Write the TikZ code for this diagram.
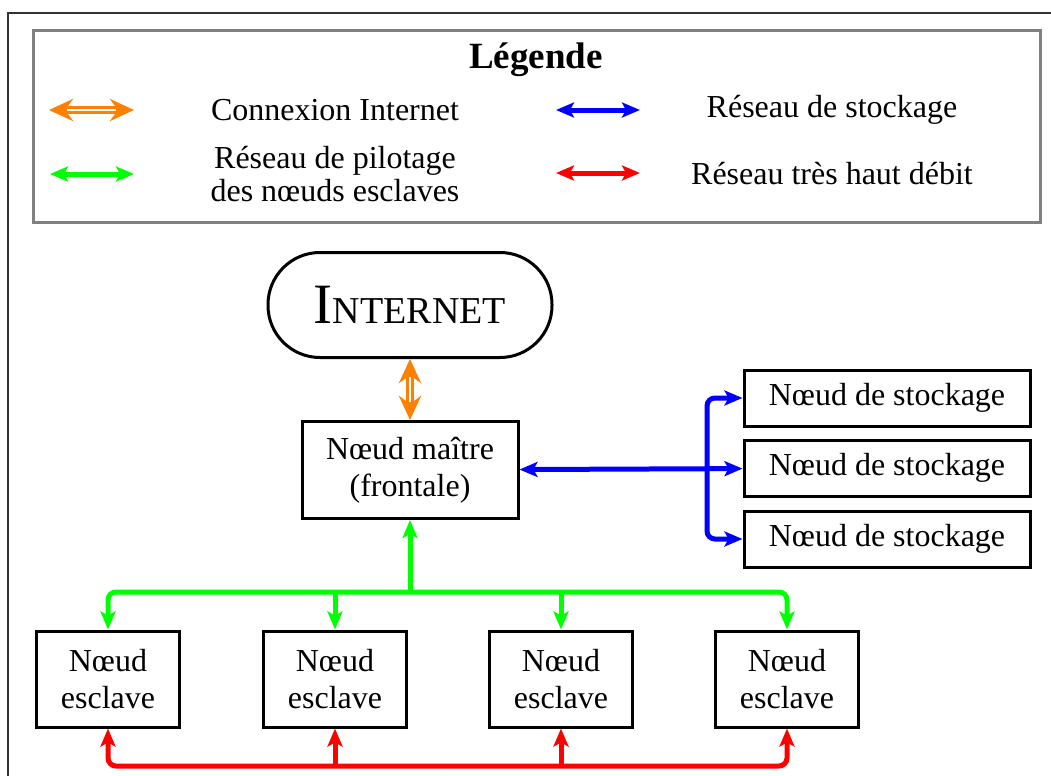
\documentclass[tikz,border=0pt]{standalone}
\usepackage{fontspec}
\setmainfont{Liberation Serif}
\usepackage{xcolor}
\usetikzlibrary{arrows.meta}

\definecolor{orangeI}{RGB}{255,128,0}
\definecolor{vertP}{RGB}{0,255,0}

\begin{document}
\begin{tikzpicture}[x=0.5pt,y=-0.5pt,>={Stealth[length=9pt,width=7.5pt,inset=2pt]}]
\useasboundingbox (0,0) rectangle (1051,776);
\fontsize{16}{18.5}\selectfont
\tikzstyle{box}=[draw,line width=1.5pt,align=center,inner sep=0pt]
\tikzstyle{lien}=[line width=2.5pt,rounded corners=4pt]
\tikzstyle{inet}=[orangeI,line width=4pt,{Stealth[length=12pt,width=11pt,inset=4pt]}-{Stealth[length=12pt,width=11pt,inset=4pt]}]
\tikzstyle{inetvide}=[white,line width=1.2pt,shorten >=9pt,shorten <=9pt]

% cadre
\draw[black!80,line width=1pt] (1051,13) -- (8,13) -- (8,776);

% legende
\draw[gray,line width=1.5pt] (33,30) rectangle (1040,222);
\node (leg) at (536,60) {\fontsize{18.5}{20}\selectfont\bfseries Légende};
\draw[inet] (49,110) -- (134,110);
\draw[inetvide] (49,110) -- (134,110);
\draw[lien,vertP,<->] (50,174) -- (134,174);
\draw[lien,blue,<->] (556,110) -- (640,110);
\draw[lien,red,<->] (556,173) -- (640,173);
\node (l1) at (335,110) {Connexion Internet};
\node[align=center,font=\fontsize{16}{16.5}\selectfont] (l2) at (335,174) {Réseau de pilotage\\des nœuds esclaves};
\node (l3) at (832,110) {Réseau de stockage};
\node (l4) at (832,174) {Réseau très haut débit};

% noeuds
\node[box,minimum width=142pt,minimum height=52.5pt,rounded corners=26pt] (inet) at (410,305)
  {{\fontsize{28.5}{30}\selectfont I}{\fontsize{19}{20}\selectfont NTERNET}};
\node[box,minimum width=108pt,minimum height=48.5pt] (front) at (410,470) {Nœud maître\\(frontale)};
\foreach \i/\y in {1/398,2/468,3/539}
  \node[box,minimum width=143pt,minimum height=28pt] (st\i) at (887,\y) {Nœud de stockage};
\foreach \i/\x in {1/108,2/335,3/561,4/787}
  \node[box,minimum width=71.5pt,minimum height=48pt] (sl\i) at (\x,679) {Nœud\\esclave};

\coordinate (bx) at (707,468);
\coordinate (gb) at (410,592);
\coordinate (rb) at (447,766);

% liens
\draw[inet] (inet) -- (front);
\draw[inetvide] (inet) -- (front);
\draw[lien,blue,<->] (front) -- (st2);
\draw[lien,blue,->] (bx) |- (st1);
\draw[lien,blue,->] (bx) |- (st3);
\draw[lien,vertP,->] (gb) -- (front);
\draw[lien,vertP,->] (gb) -| (sl1);
\draw[lien,vertP,->] (gb) -| (sl4);
\draw[lien,red,->] (rb) -| (sl1);
\draw[lien,red,->] (rb) -| (sl4);
\foreach \i in {2,3}{
  \draw[lien,vertP,->] (sl\i |- gb) -- (sl\i);
  \draw[lien,red,->] (sl\i |- rb) -- (sl\i);
}
\end{tikzpicture}
\end{document}
